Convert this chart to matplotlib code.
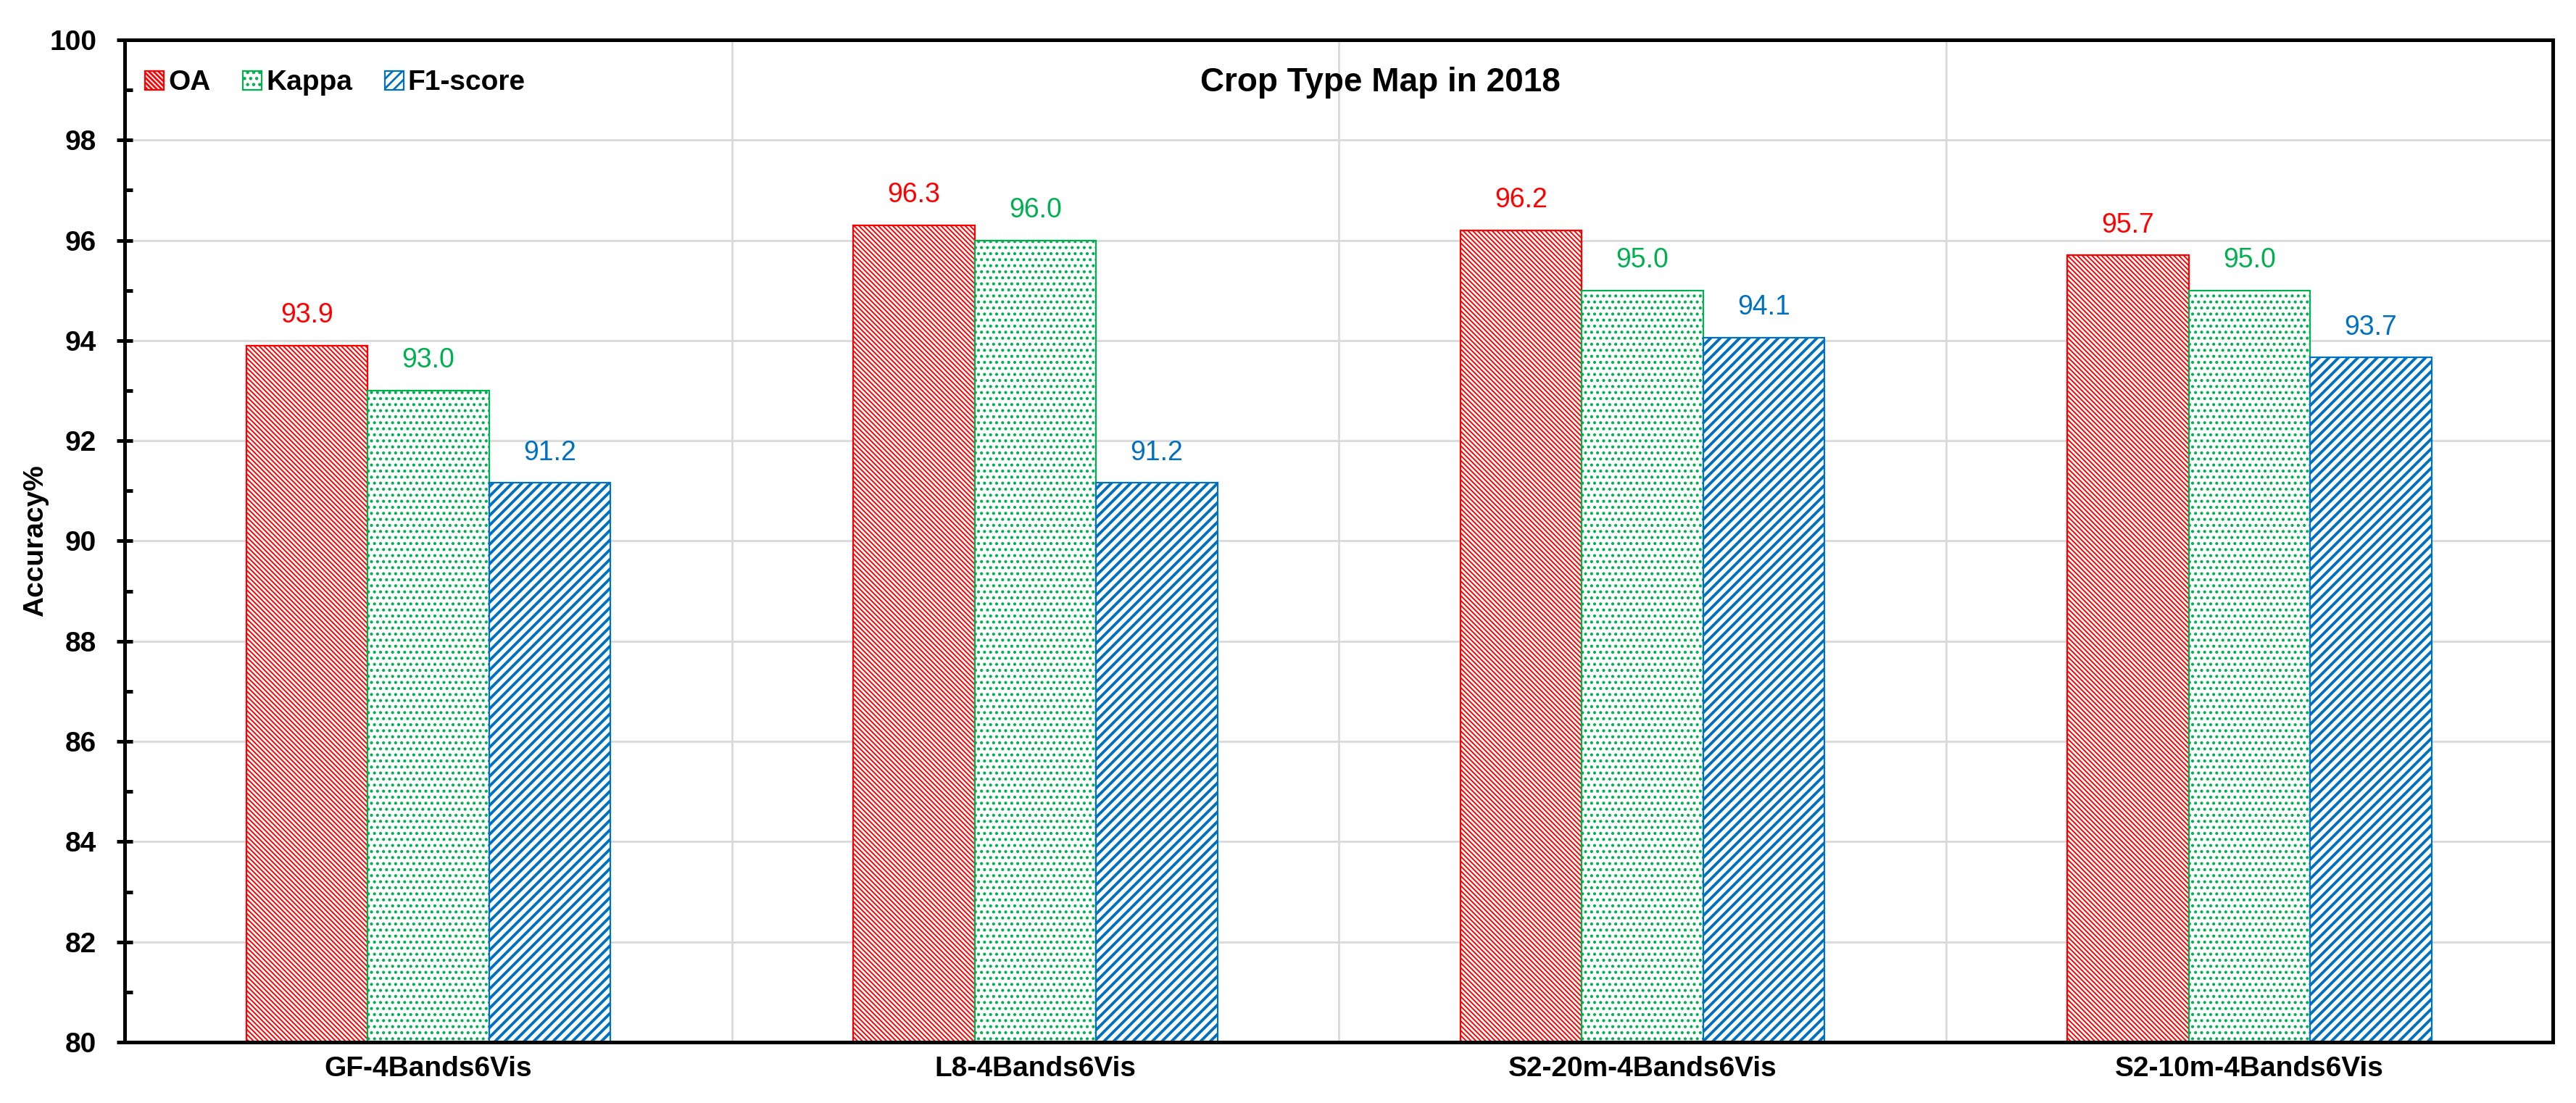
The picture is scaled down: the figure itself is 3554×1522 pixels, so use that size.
import matplotlib
matplotlib.use("Agg")
import matplotlib.pyplot as plt
import numpy as np
from matplotlib.ticker import MultipleLocator

plt.rcParams['font.family'] = ['Liberation Sans', 'DejaVu Sans']

# data
categories = ['GF-4Bands6Vis', 'L8-4Bands6Vis', 'S2-20m-4Bands6Vis', 'S2-10m-4Bands6Vis']
oa = [93.9, 96.3, 96.2, 95.7]
kappa = [93.0, 96.0, 95.0, 95.0]
f1 = [91.16, 91.16, 94.06, 93.66]
series_names = ['OA', 'Kappa', 'F1-score']

# styles
colours = ['#FF0000', '#00B050', '#0070C0']
hatches = ['\\' * 10, '....', '/////']
hatch_widths = [0.7, 0.9, 1.4]

fig = plt.figure(figsize=(17.77, 7.61), dpi=200)
ax = fig.add_axes([0.0484, 0.0552, 0.9426, 0.9087])

x = np.arange(len(categories))
width = 0.2
for i, (vals, name) in enumerate(zip([oa, kappa, f1], series_names)):
    bars = ax.bar(x + (i - 1) * width, vals, width, bottom=0, label=name,
                  facecolor='white', edgecolor=colours[i], linewidth=0.8,
                  hatch=hatches[i], zorder=3)
    for p in bars:
        if hasattr(p, 'set_hatch_linewidth'):
            p.set_hatch_linewidth(hatch_widths[i])
    ax.bar_label(bars, fmt='{:.1f}', padding=8.5, color=colours[i], fontsize=13.5)

ax.set_xlim(-0.5, len(categories) - 0.5)
ax.set_ylim(80, 100)
ax.yaxis.set_major_locator(MultipleLocator(2))
ax.yaxis.set_minor_locator(MultipleLocator(1))
ax.set_xticks(x)
ax.set_xticklabels(categories, fontsize=14, fontweight='bold')
ax.tick_params(axis='x', length=0, pad=7)
ax.tick_params(axis='y', which='major', direction='inout', length=8, width=1.8,
               labelsize=14, pad=10)
ax.tick_params(axis='y', which='minor', direction='in', length=4, width=1.8)
for lab in ax.get_yticklabels():
    lab.set_fontweight('bold')

# grid
ax.grid(axis='y', which='major', color='#D9D9D9', linewidth=1.0, zorder=0)
for b in range(1, len(categories)):
    ax.axvline(b - 0.5, color='#D9D9D9', linewidth=1.0, zorder=0)

for s in ax.spines.values():
    s.set_linewidth(1.8)
    s.set_color('black')
    s.set_zorder(5)

ax.set_ylabel('Accuracy%', fontsize=14, fontweight='bold')
ax.yaxis.set_label_coords(-0.0313, 0.5)
ax.text(0.517, 0.957, 'Crop Type Map in 2018', transform=ax.transAxes,
        ha='center', va='center', fontsize=16.5, fontweight='bold')

ax.legend(loc='center left', bbox_to_anchor=(0.0084, 0.957), ncol=3,
          frameon=False, prop={'weight': 'bold', 'size': 14},
          handlelength=0.67, handleheight=0.64, handletextpad=0.15,
          columnspacing=1.15, borderpad=0, borderaxespad=0)

fig.savefig('out.png', dpi=200)
